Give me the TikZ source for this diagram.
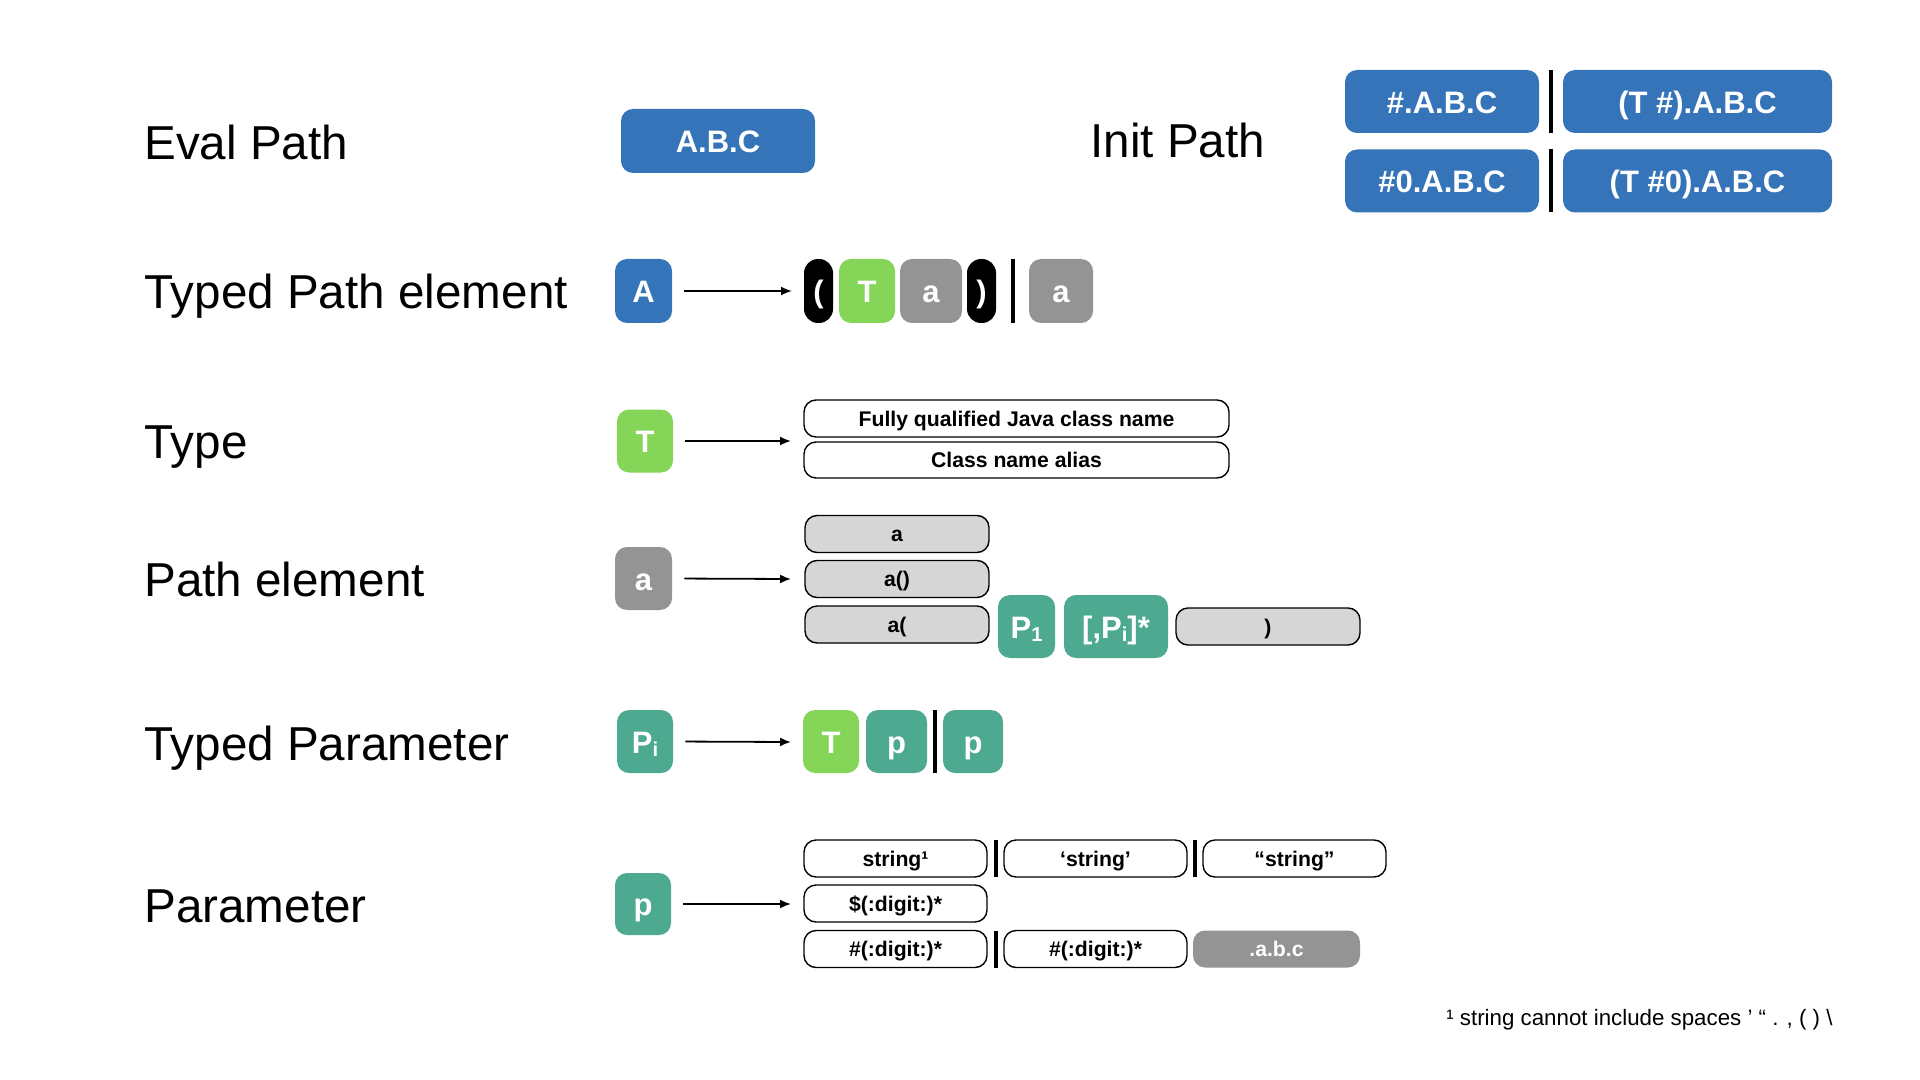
\documentclass[tikz,border=0pt]{standalone}
\usepackage{fontspec}
\usepackage{graphicx}
\setmainfont{Liberation Sans}
\usetikzlibrary{arrows.meta}
\definecolor{cblue}{HTML}{3574B9}
\definecolor{cgreen}{HTML}{85D658}
\definecolor{cteal}{HTML}{4DA98F}
\definecolor{cgray}{HTML}{949494}
\definecolor{clgray}{HTML}{D6D6D6}
\newcommand\lowsub[1]{\raisebox{-0.12em}{\scalebox{0.65}{#1}}}
\begin{document}
\begin{tikzpicture}[x=0.5pt,y=-0.5pt,
  base/.style={rounded corners=6pt, inner sep=0pt, align=center, text depth=0pt},
  bigtext/.style={text=white, font=\fontsize{15.5}{18}\selectfont\bfseries, text height=11.6pt},
  bluebox/.style={base, bigtext, fill=cblue},
  greenbox/.style={base, bigtext, fill=cgreen},
  tealbox/.style={base, bigtext, fill=cteal},
  graybox/.style={base, bigtext, fill=cgray},
  blackbox/.style={base, bigtext, fill=black, rounded corners=7pt, minimum width=14.5pt, minimum height=32pt},
  tall/.style={minimum height=31.5pt},
  smalltext/.style={font=\fontsize{10.6}{12}\selectfont\bfseries, text height=7.9pt},
  wbox/.style={base, smalltext, draw=black, line width=0.7pt, fill=white,
     minimum width=91.5pt, minimum height=18.5pt},
  lgbox/.style={wbox, fill=clgray, minimum width=92pt},
  sep/.style={fill=black, inner sep=0pt, minimum width=2pt},
  lbl/.style={anchor=base west, inner sep=0pt, font=\fontsize{23.8}{28}\selectfont},
  arr/.style={-{Latex[length=5.5pt,width=4.5pt]}, line width=0.9pt, shorten <=6pt}
]
\useasboundingbox (0,0) rectangle (1920,1080);

% labels
\node[lbl] (l1) at (144,160) {Eval Path};
\node[lbl] (l2) at (144,309) {Typed Path element};
\node[lbl] (l3) at (144,458) {Type};
\node[lbl] (l4) at (144,596) {Path element};
\node[lbl] (l5) at (144,760) {Typed Parameter};
\node[lbl] (l6) at (144,922) {Parameter};
\node[lbl] (l7) at (1090,158) {Init Path};

% eval / init paths
\node[bluebox, minimum width=97pt, minimum height=32pt] (abc) at (718,141) {A.B.C};
\node[bluebox, minimum width=97pt, tall] (i1) at (1442,101.5) {\#.A.B.C};
\node[bluebox, minimum width=134.5pt, tall] (i2) at (1697.5,101.5) {(T \#).A.B.C};
\node[bluebox, minimum width=97pt, tall] (i3) at (1442,181) {\#0.A.B.C};
\node[bluebox, minimum width=134.5pt, tall] (i4) at (1697.5,181) {(T \#0).A.B.C};
\node[sep, tall] (s1) at (1551,101.5) {};
\node[sep, tall] (s2) at (1551,181) {};

% typed path element
\node[bluebox, minimum width=28.5pt, minimum height=32pt] (A) at (643.5,291) {A};
\coordinate (e1) at (792,291);
\node[blackbox] (lp) at (818.5,291) {(};
\node[greenbox, minimum width=28pt, minimum height=32pt] (T1) at (867,291) {T};
\node[graybox, minimum width=31pt, minimum height=32pt] (a1) at (931,291) {a};
\node[blackbox] (rp) at (981.5,291) {)};
\node[sep, minimum height=32pt] (s3) at (1013,291) {};
\node[graybox, minimum width=32pt, minimum height=32pt] (a2) at (1061,291) {a};
\draw[arr] (A.east) -- (e1);

% type
\node[greenbox, minimum width=28pt, tall] (T2) at (645,441) {T};
\coordinate (e2) at (791,441);
\node[wbox, minimum width=212.5pt] (java) at (1016.5,418.5) {Fully qualified Java class name};
\node[wbox, minimum width=212.5pt, minimum height=18pt] (alias) at (1016.5,460) {Class name alias};
\draw[arr] (T2.east) -- (e2);

% path element
\node[graybox, minimum width=28.5pt, tall] (a3) at (643.5,578.5) {a};
\coordinate (e3) at (791,579);
\node[lgbox] (pa) at (897,534) {a};
\node[lgbox] (pb) at (897,579) {a()};
\node[lgbox] (pc) at (897,624.5) {a(};
\node[tealbox, minimum width=28.5pt, tall] (P1) at (1026.5,626.5) {P\lowsub{1}};
\node[tealbox, minimum width=52pt, tall] (Pis) at (1116,626.5) {[,P\lowsub{i}]*};
\node[lgbox] (pd) at (1268,626.5) {)};
\draw[arr] (a3.east) -- (e3);

% typed parameter
\node[tealbox, minimum width=28pt, tall] (Pi) at (645,741.5) {P\lowsub{i}};
\coordinate (e4) at (791,742);
\node[greenbox, minimum width=28pt, tall] (T3) at (831,741.5) {T};
\node[tealbox, minimum width=30.5pt, tall] (p1) at (896.5,741.5) {p};
\node[sep, tall] (s4) at (934.5,741.5) {};
\node[tealbox, minimum width=30pt, tall] (p2) at (973,741.5) {p};
\draw[arr] (Pi.east) -- (e4);

% parameter
\node[tealbox, minimum width=28pt, minimum height=31pt] (p3) at (643,904) {p};
\coordinate (e5) at (791,904);
\node[wbox] (q1) at (895.5,858.5) {string¹};
\node[sep, minimum height=18.5pt] (s5) at (996,858.5) {};
\node[wbox] (q2) at (1095.5,858.5) {‘string’};
\node[sep, minimum height=18.5pt] (s6) at (1195,858.5) {};
\node[wbox] (q3) at (1294.5,858.5) {“string”};
\node[wbox] (q4) at (895.5,903.5) {\$(:digit:)*};
\node[wbox] (q5) at (895.5,949) {\#(:digit:)*};
\node[sep, minimum height=18.5pt] (s7) at (996,949) {};
\node[wbox] (q6) at (1095.5,949) {\#(:digit:)*};
\node[base, smalltext, fill=cgray, text=white,
      minimum width=83.5pt, minimum height=18.5pt] (q7) at (1276.5,949) {.a.b.c};
\draw[arr] (p3.east) -- (e5);

% footnote
\node[anchor=base east, inner sep=0pt, font=\fontsize{11.15}{13}\selectfont] (fn) at (1833,1025)
  {¹ string cannot include spaces ’ “ . , ( ) \textbackslash};
\end{tikzpicture}
\end{document}
